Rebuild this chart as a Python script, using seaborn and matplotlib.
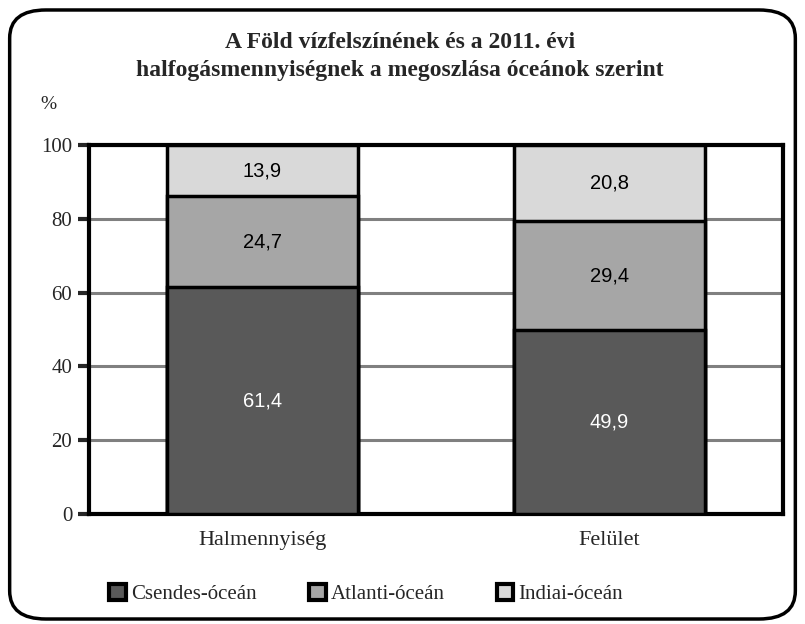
import numpy as np
import pandas as pd
import seaborn as sns
import matplotlib
matplotlib.use('Agg')
import matplotlib.pyplot as plt
from matplotlib.patches import Patch, FancyBboxPatch

# data
categories = ['Halmennyiség', 'Felület']
series = ['Csendes-óceán', 'Atlanti-óceán', 'Indiai-óceán']
csendes = [61.4, 49.9]
atlanti = [24.7, 29.4]
indiai = [13.9, 20.8]
colors = ['#595959', '#a6a6a6', '#d9d9d9']
label_colors = ['white', 'black', 'black']

sns.set_style('white')
plt.rcParams['font.family'] = ['Liberation Serif', 'DejaVu Serif']

fig = plt.figure(figsize=(8.05, 6.24), dpi=100)
ax = fig.add_axes([0.1106, 0.1763, 0.8621, 0.5913])

# stacked bars: draw cumulative heights from the top segment down
vals = np.array([csendes, atlanti, indiai])
cum = np.cumsum(vals, axis=0)
for i in [2, 1, 0]:
    df = pd.DataFrame({'cat': categories, 'val': cum[i]})
    sns.barplot(data=df, x='cat', y='val', color=colors[i], width=0.553,
                edgecolor='black', linewidth=2.5, saturation=1, ax=ax, zorder=3)

# value labels in the middle of each segment
for i in range(3):
    for j in range(len(categories)):
        mid = cum[i][j] - vals[i][j] / 2
        ax.text(j, mid, f'{vals[i][j]:.1f}'.replace('.', ','), ha='center', va='center',
                fontsize=14.5, color=label_colors[i], family='Liberation Sans', zorder=5)

ax.set_ylim(0, 100)
ax.set_xlim(-0.5, 1.5)
ax.set_yticks(range(0, 101, 20))
ax.yaxis.grid(True, color='#808080', linewidth=2.2, zorder=0)
ax.set_axisbelow(True)
for s in ax.spines.values():
    s.set_visible(True)
    s.set_color('black')
    s.set_linewidth(3)
ax.tick_params(axis='y', which='major', left=True, length=8, width=3, labelsize=15, pad=4)
ax.tick_params(axis='x', length=0, labelsize=16, pad=12)
ax.set_xlabel('')
ax.set_ylabel('')

fig.text(0.05, 0.832, '%', fontsize=14, ha='left', va='center')

fig.text(0.497, 0.91, 'A Föld vízfelszínének és a 2011. évi\nhalfogásmennyiségnek a megoszlása óceánok szerint',
         ha='center', va='center', fontsize=17, fontweight='bold', linespacing=1.45)

handles = [Patch(facecolor=c, edgecolor='black', linewidth=3) for c in colors]
fig.legend(handles, series, loc='center', bbox_to_anchor=(0.455, 0.048), ncol=3, frameon=False,
           fontsize=15, handlelength=0.8, handleheight=0.8, handletextpad=0.25, columnspacing=2.5)

border = FancyBboxPatch((0.012, 0.008), 0.976, 0.976, boxstyle='round,pad=0,rounding_size=0.045',
                        transform=fig.transFigure, facecolor='none', edgecolor='black', linewidth=2.5)
fig.patches.append(border)

fig.savefig('out.png', dpi=100)
